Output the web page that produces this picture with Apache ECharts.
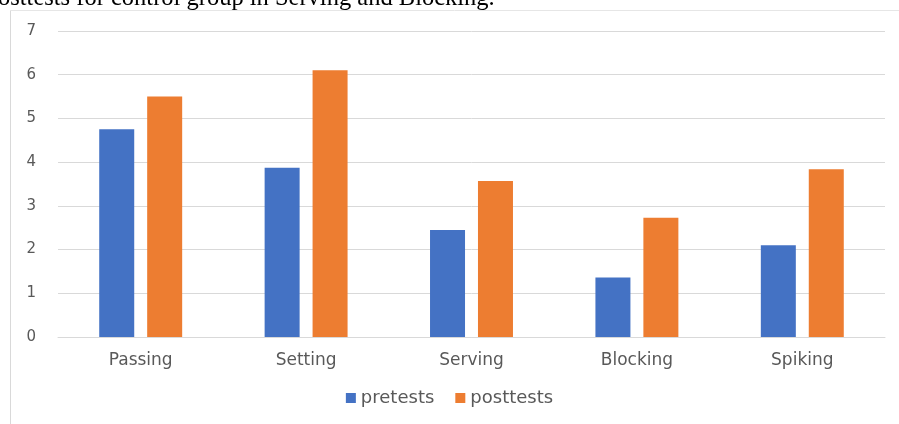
<!DOCTYPE html>
<html>
<head>
<meta charset="utf-8">
<script src="https://cdn.jsdelivr.net/npm/echarts@6/dist/echarts.min.js"></script>
<style>
  html, body { margin: 0; padding: 0; background: #fff; }
  #chart { width: 899px; height: 424px; }
</style>
</head>
<body>
<div id="chart"></div>
<script>
const categories = ['Passing', 'Setting', 'Serving', 'Blocking', 'Spiking'];
const pretests = [4.75, 3.87, 2.45, 1.36, 2.1];
const posttests = [5.5, 6.1, 3.57, 2.73, 3.84];
const captionText = 'osttests for control group in Serving and Blocking.';

const chart = echarts.init(document.getElementById('chart'));

const labelFont = 'DejaVu Sans';

const option = {
  animation: false,
  backgroundColor: '#fff',
  graphic: [
    {
      type: 'text',
      left: -2,
      top: -14,
      style: {
        text: captionText,
        font: '24.5px "Liberation Serif", "Times New Roman", serif',
        fill: '#000'
      }
    },
    {
      type: 'line',
      shape: { x1: 10.5, y1: 10, x2: 10.5, y2: 424 },
      style: { stroke: '#d9d9d9', lineWidth: 1 }
    },
    {
      type: 'line',
      shape: { x1: 10, y1: 10.5, x2: 899, y2: 10.5 },
      style: { stroke: '#e6e6e6', lineWidth: 1 }
    }
  ],
  grid: {
    left: 58,
    right: 14,
    top: 31,
    bottom: 87
  },
  legend: {
    bottom: 12,
    left: 'center',
    itemWidth: 10,
    itemHeight: 10,
    itemGap: 21,
    icon: 'rect',
    textStyle: { color: '#595959', fontSize: 18, fontFamily: labelFont },
    data: ['pretests', 'posttests']
  },
  xAxis: {
    type: 'category',
    data: categories,
    axisLine: { lineStyle: { color: '#d9d9d9' } },
    axisTick: { show: false },
    axisLabel: { color: '#595959', fontSize: 17, margin: 15, fontFamily: labelFont }
  },
  yAxis: {
    type: 'value',
    min: 0,
    max: 7,
    interval: 1,
    axisLine: { show: false },
    axisTick: { show: false },
    axisLabel: { color: '#595959', fontSize: 15, margin: 22, fontFamily: labelFont },
    splitLine: { lineStyle: { color: '#d9d9d9' } }
  },
  series: [
    {
      name: 'pretests',
      type: 'bar',
      data: pretests,
      barWidth: 35,
      barGap: '37%',
      itemStyle: { color: '#4472c4' }
    },
    {
      name: 'posttests',
      type: 'bar',
      data: posttests,
      barWidth: 35,
      itemStyle: { color: '#ed7d31' }
    }
  ]
};

chart.setOption(option);
window.addEventListener('resize', () => chart.resize());
</script>
</body>
</html>
